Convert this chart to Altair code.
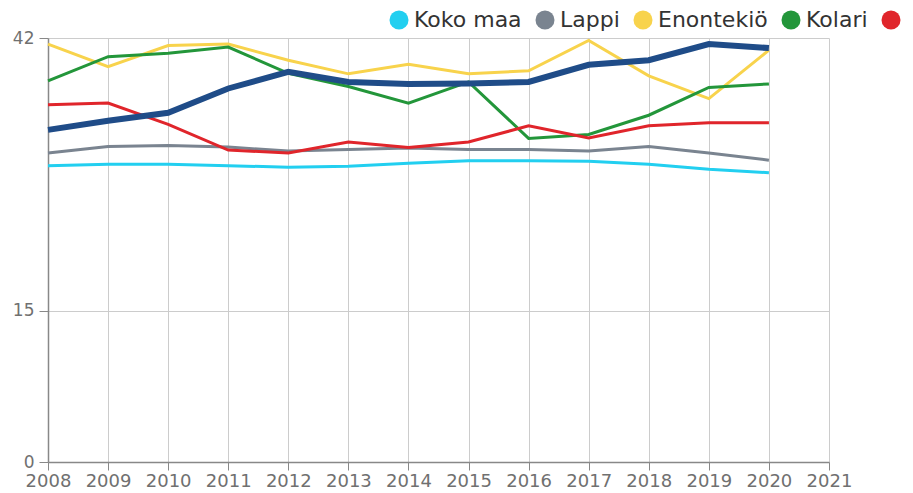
import altair as alt
import pandas as pd

years = list(range(2008, 2021))
series_names = ["Koko maa", "Lappi", "Enontekiö", "Kolari", "Muonio", "Kittilä"]
series_colors = ["#22cff0", "#7a8490", "#f8d34c", "#23963a", "#e0252b", "#1f4c88"]

koko_maa = [29.35, 29.5, 29.5, 29.35, 29.2, 29.3, 29.6, 29.85, 29.85, 29.8, 29.5, 29.0, 28.65]
lappi = [30.6, 31.25, 31.35, 31.2, 30.8, 30.95, 31.1, 30.95, 30.95, 30.8, 31.25, 30.6, 29.9]
enontekio = [41.4, 39.15, 41.25, 41.4, 39.8, 38.45, 39.4, 38.45, 38.75, 41.75, 38.25, 36.0, 40.8]
kolari = [37.75, 40.15, 40.5, 41.1, 38.5, 37.2, 35.55, 37.65, 32.05, 32.45, 34.35, 37.1, 37.45]
muonio = [35.4, 35.55, 33.45, 30.9, 30.6, 31.7, 31.15, 31.7, 33.3, 32.1, 33.3, 33.6, 33.6]
kittila = [32.9, 33.8, 34.6, 37.0, 38.65, 37.65, 37.45, 37.5, 37.65, 39.35, 39.8, 41.4, 41.0]

y_ticks = [0, 15, 42]
x_ticks = list(range(2008, 2022))

values = [koko_maa, lappi, enontekio, kolari, muonio, kittila]
rows = []
for name, vals in zip(series_names, values):
    for yr, v in zip(years, vals):
        rows.append({"year": yr, "value": v, "series": name})
df = pd.DataFrame(rows)

color = alt.Color(
    "series:N",
    scale=alt.Scale(domain=series_names, range=series_colors),
    legend=alt.Legend(
        title=None,
        orient="none",
        direction="horizontal",
        legendX=340,
        legendY=-29,
        symbolType="circle",
        symbolSize=361,
        symbolStrokeWidth=0,
        symbolOpacity=1,
        labelFontSize=22,
        labelFont="DejaVu Sans",
        labelColor="#333333",
        labelOffset=4,
        columnPadding=12,
        labelLimit=400,
    ),
)

x = alt.X(
    "year:Q",
    scale=alt.Scale(domain=[2008, 2021], nice=False, zero=False),
    axis=alt.Axis(values=x_ticks, format="d", title=None, labelFontSize=18,
                  labelFont="DejaVu Sans", labelColor="#707070", tickSize=8,
                  labelPadding=2, grid=True, gridColor="#cccccc",
                  domainColor="#888888", tickColor="#888888", domainWidth=1.5,
                  labelFlush=False, labelOverlap=False),
)
y = alt.Y(
    "value:Q",
    scale=alt.Scale(domain=[0, 42], nice=False),
    axis=alt.Axis(values=y_ticks, title=None, labelFontSize=17,
                  labelFont="DejaVu Sans", labelColor="#707070", tickSize=9,
                  labelPadding=5, grid=True, gridColor="#cccccc",
                  domainColor="#888888", tickColor="#888888", domainWidth=1.5),
)

dots = alt.Chart(df).mark_circle(size=0, opacity=1).encode(x=x, y=y, color=color)
thin = alt.Chart(df).transform_filter(alt.datum.series != "Kittilä").mark_line(strokeWidth=3).encode(
    x=x, y=y, color=color
)
thick = alt.Chart(df).transform_filter(alt.datum.series == "Kittilä").mark_line(strokeWidth=6).encode(
    x=x, y=y, color=color
)

chart = alt.layer(dots, thin, thick).properties(
    width=781, height=424,
    autosize=alt.AutoSizeParams(type="none"),
    padding={"left": 40, "top": 30, "right": 76, "bottom": 30},
).configure_view(strokeWidth=0)

chart.save("out.html", embed_options={"renderer": "svg", "actions": False})
